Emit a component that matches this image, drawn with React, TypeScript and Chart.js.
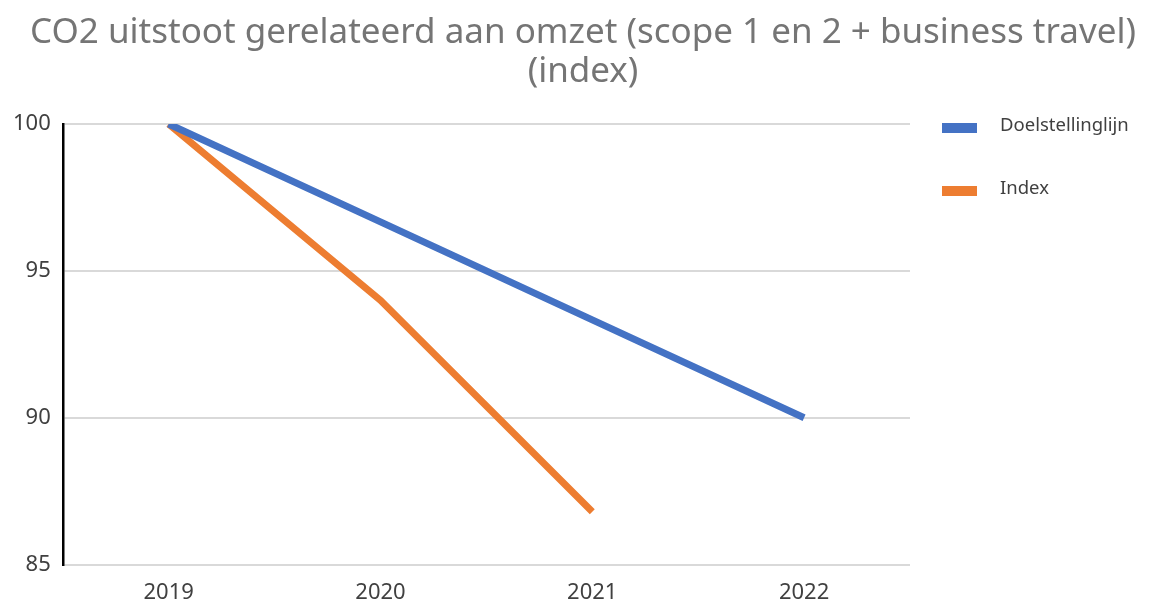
import React, { useEffect, useRef } from "react";
import { Chart, registerables } from "chart.js";

Chart.register(...registerables);

const categories = ["2019", "2020", "2021", "2022"];
const targetLine = [100, 96.67, 93.33, 90];
const indexValues = [100, 94, 86.8, null];
const yTicks = [85, 90, 95, 100];
const titleLines = ["CO2 uitstoot gerelateerd aan omzet (scope 1 en 2 + business travel)", "(index)"];
const seriesNames = ["Doelstellinglijn", "Index"];
const seriesColors = ["#4472C4", "#ED7D31"];

const FONT = "'Noto Sans', 'Open Sans', sans-serif";

const centeredTitle = {
  id: "centeredTitle",
  afterDraw(chart: any) {
    const { ctx, width } = chart;
    ctx.save();
    ctx.fillStyle = "#757575";
    ctx.font = `35px ${FONT}`;
    ctx.textAlign = "center";
    ctx.textBaseline = "middle";
    ctx.fillText(titleLines[0], width / 2, 33);
    ctx.fillText(titleLines[1], width / 2, 72);
    ctx.restore();
  },
};

const sideLegend = {
  id: "sideLegend",
  afterDraw(chart: any) {
    const { ctx, chartArea } = chart;
    ctx.save();
    chart.data.datasets.forEach((ds: any, i: number) => {
      const yc = chartArea.top + 4 + i * 63;
      ctx.fillStyle = ds.borderColor;
      ctx.fillRect(chartArea.right + 32, yc - 5, 35, 10);
      ctx.fillStyle = "#404040";
      ctx.font = `18.5px ${FONT}`;
      ctx.textBaseline = "middle";
      ctx.textAlign = "left";
      ctx.fillText(ds.label, chartArea.right + 90, yc - 2);
    });
    ctx.restore();
  },
};

export default function App() {
  const ref = useRef<HTMLCanvasElement | null>(null);
  useEffect(() => {
    document.body.style.margin = "0";
    const chart = new Chart(ref.current!, {
      type: "line",
      data: {
        labels: categories,
        datasets: [
          {
            label: seriesNames[0],
            data: targetLine,
            borderColor: seriesColors[0],
            backgroundColor: seriesColors[0],
            borderWidth: 7,
            pointRadius: 0,
            borderCapStyle: "butt",
            tension: 0,
          },
          {
            label: seriesNames[1],
            data: indexValues,
            borderColor: seriesColors[1],
            backgroundColor: seriesColors[1],
            borderWidth: 7,
            pointRadius: 0,
            borderCapStyle: "butt",
            tension: 0,
          },
        ],
      },
      options: {
        animation: false,
        responsive: false,
        layout: { padding: { left: 1, right: 256, top: 124, bottom: -16 } },
        plugins: {
          legend: { display: false },
          tooltip: { enabled: false },
          title: { display: false },
        },
        scales: {
          x: {
            offset: true,
            grid: { display: false, drawTicks: false },
            border: { display: false },
            ticks: { color: "#404040", font: { family: FONT, size: 22 }, padding: 15 },
          },
          y: {
            min: 85,
            max: 100,
            afterBuildTicks: (axis: any) => {
              axis.ticks = yTicks.map((v) => ({ value: v }));
            },
            grid: { color: "#d9d9d9", lineWidth: 2, drawTicks: false },
            border: { display: true, color: "#000000", width: 2.5 },
            ticks: { color: "#404040", font: { family: FONT, size: 22 }, padding: 12 },
          },
        },
      },
      plugins: [centeredTitle, sideLegend],
    });
    return () => chart.destroy();
  }, []);
  return (
    <div style={{ position: "absolute", left: 0, top: 0, width: 1166, height: 605 }}>
      <canvas ref={ref} width={1166} height={605} style={{ display: "block", width: 1166, height: 605 }} />
    </div>
  );
}
